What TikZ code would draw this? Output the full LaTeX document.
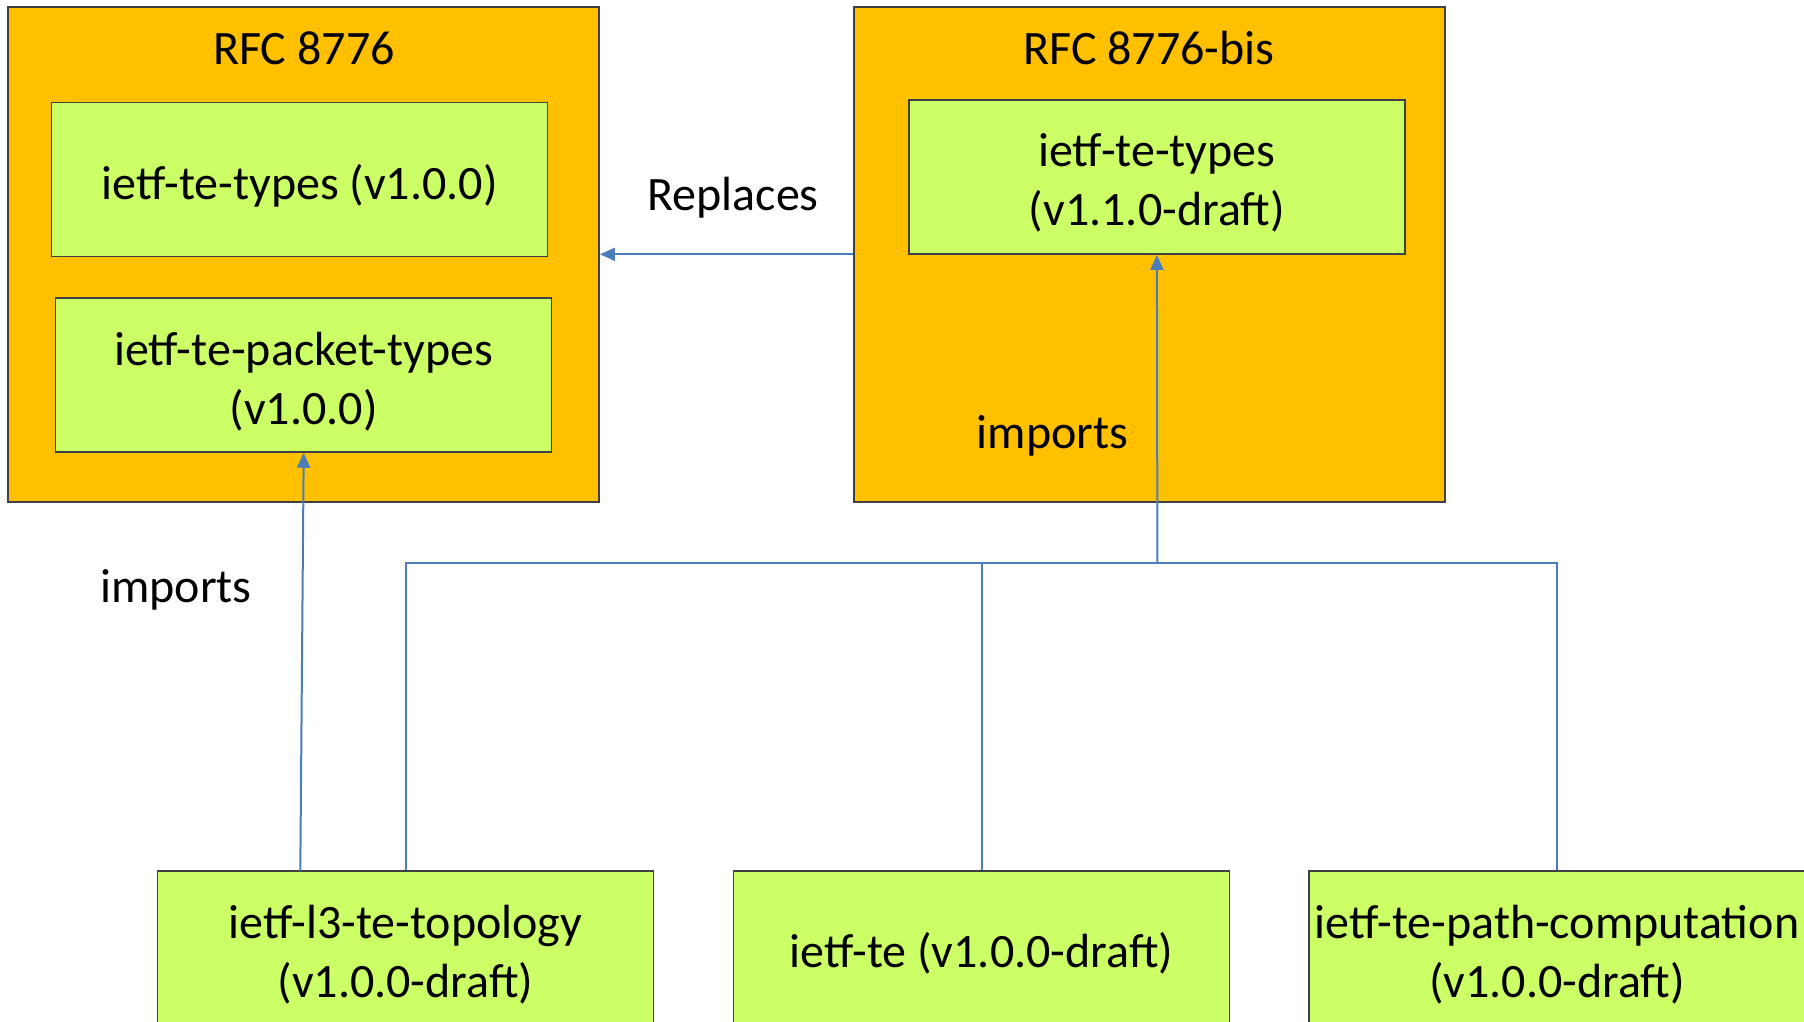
\documentclass[tikz,border=0pt]{standalone}
\usepackage{fontspec}
\setmainfont{Carlito}
\usetikzlibrary{arrows.meta}
\definecolor{rfcorange}{HTML}{FFC000}
\definecolor{modgreen}{HTML}{CCFF66}
\definecolor{linkblue}{HTML}{4A7EBB}
\definecolor{edgegray}{HTML}{404040}
\begin{document}
\begin{tikzpicture}[x=1pt,y=-1pt,
  every node/.style={font=\fontsize{48pt}{59pt}\selectfont, inner sep=0pt},
  rfcbox/.style={draw=edgegray, line width=1.5pt, fill=rfcorange, minimum width=591pt, minimum height=495pt},
  modbox/.style={draw=edgegray, line width=1.5pt, fill=modgreen, minimum width=496pt, minimum height=154pt},
  lowbox/.style={modbox, minimum height=161pt},
  link/.style={draw=linkblue, line width=2pt},
  linkarrow/.style={link, -{Triangle[length=15pt,width=13pt]}},
  lbl/.style={align=center}]
\useasboundingbox (0,0) rectangle (1804,1021);
\clip (0,0) rectangle (1804,1021);
% RFC 8776
\node[rfcbox] (A) at (303.7,254.3) {};
\node[lbl] (At) at (304,48.5) {RFC 8776};
\node[modbox] (A1) at (299.7,179.5) {};
\node[lbl] (A1t) at ([yshift=-6pt]A1.center) {ietf-te-types (v1.0.0)};
\node[modbox] (A2) at (303.7,375) {};
\node[lbl] (A2t) at ([yshift=-7pt]A2.center) {ietf-te-packet-types\\(v1.0.0)};
% RFC 8776-bis
\node[rfcbox] (B) at (1149.4,254.3) {};
\node[lbl] (Bt) at (1149,48.5) {RFC 8776-bis};
\node[modbox] (B1) at (1156.9,177.2) {};
\node[lbl] (B1t) at ([yshift=-6pt]B1.center) {ietf-te-types\\(v1.1.0-draft)};
% bottom modules
\node[lowbox] (C1) at (405.5,951.5) {};
\node[lbl] (C1t) at ([yshift=-3pt]C1.center) {ietf-l3-te-topology\\(v1.0.0-draft)};
\node[lowbox] (C2) at (981.5,951.5) {};
\node[lbl] (C2t) at ([yshift=-2pt]C2.center) {ietf-te (v1.0.0-draft)};
\node[lowbox] (C3) at (1557,951.5) {};
\node[lbl] (C3t) at ([yshift=-3pt]C3.center) {ietf-te-path-computation\\(v1.0.0-draft)};
% labels
\node[lbl] (rep) at (733,197.5) {Replaces};
\node[lbl] (impB) at (1052.7,436) {imports};
\node[lbl] (impA) at (176,590) {imports};
% connectors
\coordinate (J) at (1157.4,562.6);
\coordinate (C1a) at (300.3,871);
\draw[linkarrow] (B.west) -- (A.east);
\draw[linkarrow] (J) -- (B1.south);
\draw[link] (C1.north) -- (C1.north |- J) -- (C3.north |- J) -- (C3.north);
\draw[link] (C2.north) -- (C2.north |- J);
\draw[linkarrow] (C1a) -- (A2.south);
\end{tikzpicture}
\end{document}
